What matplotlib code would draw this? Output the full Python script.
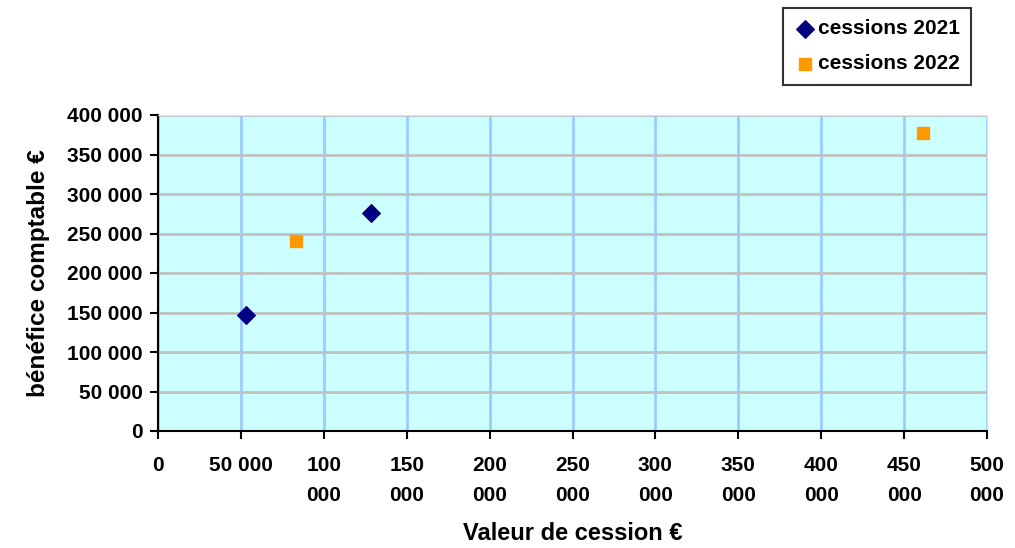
import matplotlib.pyplot as plt
from matplotlib.ticker import FuncFormatter

# data
x_2021 = [53000, 128500]
y_2021 = [147000, 276000]
x_2022 = [83500, 461500]
y_2022 = [240500, 377000]

x_ticks = list(range(0, 500001, 50000))
y_ticks = list(range(0, 400001, 50000))

plt.rcParams['font.family'] = ['Liberation Sans', 'DejaVu Sans']
plt.rcParams['font.weight'] = 'bold'


def fmt_y(v, pos):
    return f"{int(v):,}".replace(",", " ")


def fmt_x(v, pos):
    v = int(v)
    if v < 100000:
        return f"{v:,}".replace(",", " ")
    return f"{v // 1000}\n000"


fig = plt.figure(figsize=(10.15, 5.48), dpi=100)
ax = fig.add_axes([158 / 1015, 1 - 431 / 548, (987 - 158) / 1015, (431 - 115) / 548])
ax.set_facecolor('#CCFFFF')

ax.scatter(x_2021, y_2021, marker='D', s=80, color='#000080', label='cessions 2021', zorder=3)
ax.scatter(x_2022, y_2022, marker='s', s=85, color='#FF9900', label='cessions 2022', zorder=3)

ax.set_xlim(0, 500000)
ax.set_ylim(0, 400000)
ax.set_xticks(x_ticks)
ax.set_yticks(y_ticks)
ax.xaxis.set_major_formatter(FuncFormatter(fmt_x))
ax.yaxis.set_major_formatter(FuncFormatter(fmt_y))

ax.xaxis.grid(True, color='#99CCFF', linewidth=2)
ax.yaxis.grid(True, color='#C0C0C0', linewidth=2)
ax.set_axisbelow(True)

for side in ['top', 'right']:
    ax.spines[side].set_color('#BFEFFF')
for side in ['left', 'bottom']:
    ax.spines[side].set_color('black')
    ax.spines[side].set_linewidth(1.5)

ax.tick_params(axis='both', direction='out', length=6, width=1.5, labelsize=15)
ax.tick_params(axis='x', pad=12)
ax.tick_params(axis='y', pad=5)
for lbl in ax.get_xticklabels():
    lbl.set_linespacing(1.75)
    lbl.set_verticalalignment('top')

ax.set_xlabel('Valeur de cession €', fontsize=17, fontweight='bold', labelpad=12)
ax.set_ylabel('bénéfice comptable €', fontsize=17.5, fontweight='bold', labelpad=12)

leg = fig.legend(loc='upper right', bbox_to_anchor=(971 / 1015, 1 - 8 / 548),
                 fontsize=15, frameon=True, fancybox=False, handletextpad=0.1,
                 handlelength=1.0, borderpad=0.55, labelspacing=0.75, borderaxespad=0)
leg.get_frame().set_edgecolor('black')
leg.get_frame().set_linewidth(1.5)

fig.savefig('out.png', dpi=100)
